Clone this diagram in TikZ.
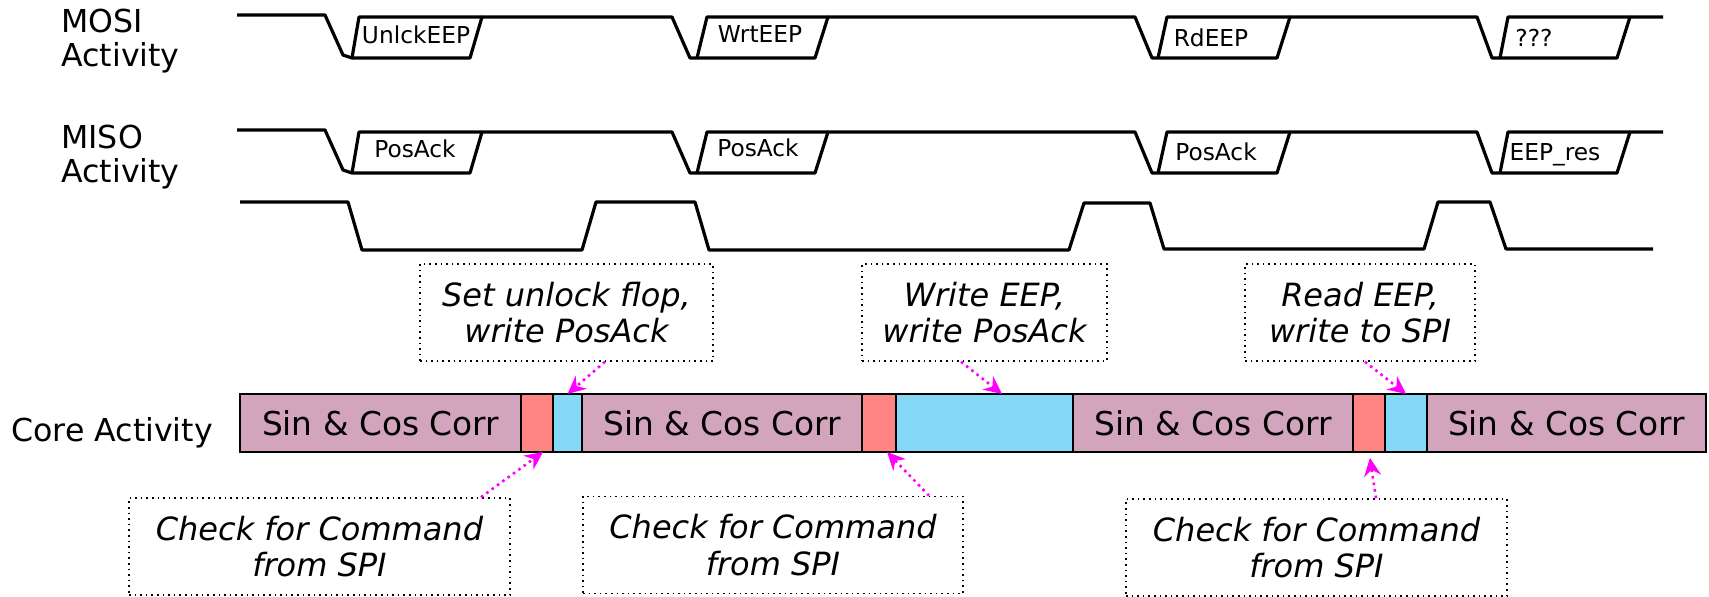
\documentclass[tikz,border=0pt]{standalone}
\usepackage{fontspec}
\setmainfont{DejaVu Sans}
\usepackage{tikz}
\usetikzlibrary{arrows.meta, positioning}
\definecolor{corrpink}{RGB}{211,165,189}
\definecolor{chkred}{RGB}{255,132,132}
\definecolor{cmdblue}{RGB}{133,216,245}
\definecolor{pointmag}{RGB}{255,0,255}
\tikzstyle{wave} = [line width=1.6pt, line join=round]
\tikzstyle{seg} = [rectangle, draw, line width=1.2pt, minimum height=29pt, inner sep=0pt, outer sep=0pt]
\tikzstyle{corr} = [seg, fill=corrpink, font=\fontsize{16.4}{18}\selectfont]
\tikzstyle{chk} = [seg, fill=chkred, minimum width=16pt]
\tikzstyle{cmd} = [seg, fill=cmdblue]
\tikzstyle{note} = [rectangle, draw, dotted, line width=0.8pt, minimum height=48.5pt, align=center, font=\fontsize{16}{18.3}\selectfont\itshape]
\tikzstyle{callout} = [pointmag, dotted, line width=1.3pt, -{Stealth[length=9pt,width=8.5pt,inset=3pt]}]
\tikzstyle{lbl} = [font=\fontsize{15.8}{17}\selectfont, align=left, inner sep=0pt]
\tikzstyle{bus} = [font=\fontsize{11.65}{14}\selectfont, anchor=base, inner sep=0pt]

\begin{document}
\begin{tikzpicture}[x=0.5pt, y=-0.5pt]
    \useasboundingbox (0,0) rectangle (1709,597);

    \node (mosilbl) [lbl, anchor=west] at (61,41) {MOSI\\Activity};
    \node (misolbl) [lbl, anchor=west] at (61,157) {MISO\\Activity};
    \node (corelbl) [lbl, anchor=base west] at (11,442) {Core Activity};

    \foreach \row in {0,115} {
        \draw [wave, shift={(0,\row)}] (237,15) -- (325,15) -- (343,55) -- (352,58) -- (470,58) -- (482,17) -- (672,17) -- (690,58) -- (815,58) -- (828,17) -- (1135,17) -- (1152,58) -- (1277,58) -- (1290,17) -- (1477,17) -- (1492,58) -- (1617,58) -- (1630,17) -- (1663,17);
        \draw [wave, shift={(0,\row)}] (352,58) -- (359,17) -- (482,17) (697,58) -- (707,17) -- (828,17) (1158,58) -- (1167,17) -- (1290,17) (1500,58) -- (1508,17) -- (1630,17);
    }
    \draw [wave] (240,202) -- (348,202) -- (362,250) -- (582,250) -- (596,202) -- (695,202) -- (709,250) -- (1069,250) -- (1084,203) -- (1150,203) -- (1164,249) -- (1424,249) -- (1438,202) -- (1490,202) -- (1506,249) -- (1653,249);

    \node (unlck) [bus] at (416,44) {UnlckEEP};
    \node (wrt) [bus] at (760,43) {WrtEEP};
    \node (rd) [bus] at (1211,47) {RdEEP};
    \node (unk) [bus] at (1534,47) {???};
    \node (ack1) [bus] at (415,158) {PosAck};
    \node (ack2) [bus] at (758,157) {PosAck};
    \node (ack3) [bus] at (1216,161) {PosAck};
    \node (eepres) [bus] at (1555,161) {EEP\_res};

    \node (corr1) [corr, minimum width=140.5pt, anchor=west] at (240,423) {Sin \& Cos Corr};
    \node (chk1) [chk, right=0pt of corr1] {};
    \node (cmd1) [cmd, minimum width=14.5pt, right=0pt of chk1] {};
    \node (corr2) [corr, minimum width=140pt, right=0pt of cmd1] {Sin \& Cos Corr};
    \node (chk2) [chk, minimum width=17pt, right=0pt of corr2] {};
    \node (cmd2) [cmd, minimum width=88.5pt, right=0pt of chk2] {};
    \node (corr3) [corr, minimum width=140pt, right=0pt of cmd2] {Sin \& Cos Corr};
    \node (chk3) [chk, right=0pt of corr3] {};
    \node (cmd3) [cmd, minimum width=21pt, right=0pt of chk3] {};
    \node (corr4) [corr, minimum width=139.5pt, right=0pt of cmd3] {Sin \& Cos Corr};

    \node (setflop) [note, minimum width=146.5pt] at (566.5,312.5) {Set unlock flop,\\write PosAck};
    \node (wreep) [note, minimum width=122.5pt] at (984.5,312.5) {Write EEP,\\write PosAck};
    \node (rdeep) [note, minimum width=115pt] at (1360,312.5) {Read EEP,\\write to SPI};
    \node (cmdchk1) [note, minimum width=190.5pt] at (319.5,546.5) {Check for Command\\from SPI};
    \node (cmdchk2) [note, minimum width=190pt] at (773,545) {Check for Command\\from SPI};
    \node (cmdchk3) [note, minimum width=190.5pt] at (1316.5,547.5) {Check for Command\\from SPI};

    \draw [callout] ([xshift=19.25pt]setflop.south) -- (cmd1.north);
    \draw [callout] ([xshift=-11.75pt]wreep.south) -- ([xshift=8.75pt]cmd2.north);
    \draw [callout] ([xshift=2.5pt]rdeep.south) -- (cmd3.north);
    \draw [callout] ([xshift=80.75pt]cmdchk1.north) -- ([xshift=3pt]chk1.south);
    \draw [callout] ([xshift=78pt]cmdchk2.north) -- ([xshift=4pt]chk2.south);
    \draw [callout, shorten >=3pt] ([xshift=29.75pt]cmdchk3.north) -- (chk3.south);
\end{tikzpicture}
\end{document}
